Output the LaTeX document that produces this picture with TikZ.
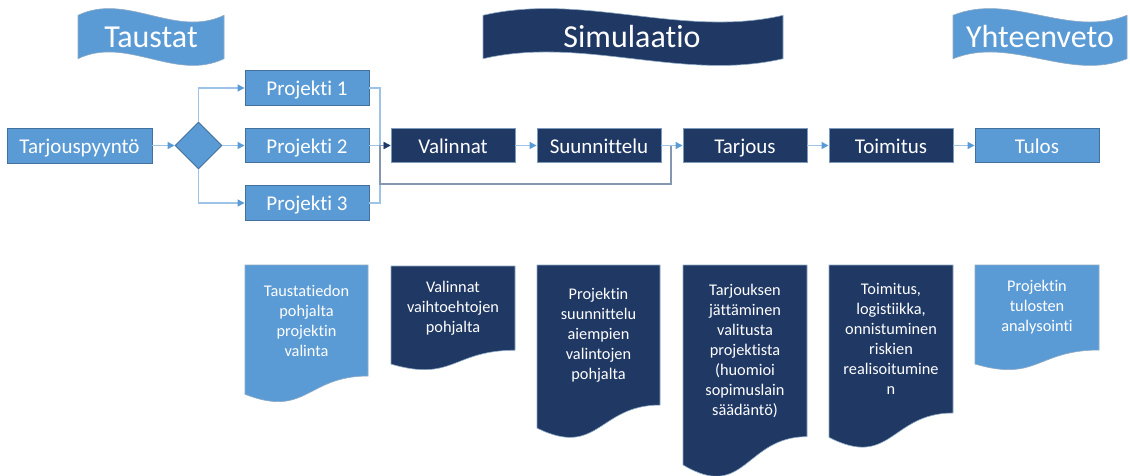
\documentclass[tikz,border=0pt]{standalone}
\usepackage{fontspec}
\setmainfont{Carlito}[Ligatures={CommonOff,ContextualOff}]
\usetikzlibrary{shapes.geometric,arrows.meta}
\definecolor{lblue}{HTML}{5B9BD5}
\definecolor{dblue}{HTML}{203864}
\definecolor{edgeblue}{HTML}{41719C}
\definecolor{conn}{HTML}{9DC3E6}
\definecolor{fbline}{HTML}{8496B0}
\tikzset{
  boxbase/.style={rectangle, draw=edgeblue, line width=0.9pt, text=white,
    minimum width=124, minimum height=34.5, inner sep=0pt,
    text height=17pt, text depth=2pt,
    font=\fontsize{21}{25}\selectfont},
  lightbox/.style={boxbase, fill=lblue},
  darkbox/.style={boxbase, fill=dblue, draw=edgeblue!70!white},
  decision/.style={diamond, aspect=1, draw=edgeblue, line width=0.9pt, fill=lblue,
    minimum width=47, minimum height=47, inner sep=0pt},
  bannertext/.style={text=white, font=\fontsize{32}{38}\selectfont, inner sep=0pt},
  doctext/.style={text=white, align=center, inner sep=0pt,
    font=\fontsize{16.3}{20}\selectfont},
  lightfill/.style={fill=lblue, draw=edgeblue!60!white, line width=0.6pt},
  darkfill/.style={fill=dblue, draw=edgeblue!60!white, line width=0.6pt},
  connector/.style={draw=conn, line width=1.3pt,
    -{Triangle[length=7pt,width=7pt,fill=lblue,color=lblue]}},
  plainconn/.style={draw=conn, line width=1.3pt},
  feedback/.style={draw=fbline, line width=1.3pt,
    -{Triangle[length=7pt,width=7pt,fill=dblue,color=dblue]}}
}
% wave banner: #1 style, #2 x0, #3 x1
\newcommand\wavebanner[3]{%
  \path[#1] (#2,15.3)
    .. controls ({#2+(#3-#2)/3},-8) and ({#2+2*(#3-#2)/3},38.6) .. (#3,15.3)
    -- (#3,58.7)
    .. controls ({#2+2*(#3-#2)/3},82) and ({#2+(#3-#2)/3},35.4) .. (#2,58.7)
    -- cycle;}
% document shape: #1 style, #2 x0, #3 x1, #4 top, #5 height
\newcommand\docshp[5]{%
  \path[#1] (#2,#4) -- (#3,#4) -- (#3,{#4+0.802*#5})
    .. controls ({(#2+#3)/2},{#4+0.802*#5}) and ({(#2+#3)/2},{#4+1.107*#5})
    .. (#2,{#4+0.934*#5}) -- cycle;}
\begin{document}
\begin{tikzpicture}[x=1pt,y=-1pt]
\useasboundingbox[fill=white] (0,0) rectangle (1130,475);

% banners
\wavebanner{lightfill}{78}{224}
\node[bannertext] (bt) at (151,37) {Taustat};
\wavebanner{darkfill}{483}{783}
\node[bannertext] (bs) at (632,37) {Simulaatio};
\wavebanner{lightfill}{953}{1127}
\node[bannertext] (by) at (1040,37) {Yhteenveto};

% process boxes
\node[lightbox, minimum width=145, minimum height=35] (tarj) at (79.5,145.5) {Tarjouspyyntö};
\node[decision] (dia) at (198.5,145.5) {};
\node[lightbox] (p1) at (307,88) {Projekti 1};
\node[lightbox] (p2) at (307,145.5) {Projekti 2};
\node[lightbox] (p3) at (307,203) {Projekti 3};
\node[darkbox] (val) at (453,145.5) {Valinnat};
\node[darkbox] (suu) at (599,145.5) {Suunnittelu};
\node[darkbox] (tar) at (745,145.5) {Tarjous};
\node[darkbox] (toi) at (891,145.5) {Toimitus};
\node[lightbox] (tul) at (1037,145.5) {Tulos};

\coordinate (jn) at (380,145.5);
\coordinate (fbr) at (671,184);

% connectors
\draw[connector] (tarj.east) -- (dia.west);
\draw[connector] (dia.north) |- (p1.west);
\draw[connector] (dia.east) -- (p2.west);
\draw[connector] (dia.south) |- (p3.west);
\draw[plainconn] (p1.east) -| (jn);
\draw[plainconn] (p3.east) -| (jn);
\draw[connector] (p2.east) -- (val.west);
\draw[feedback] (suu.east) -| (fbr) -| (jn) -- (val.west);
\draw[connector] (val.east) -- (suu.west);
\draw[connector] (suu.east) -- (tar.west);
\draw[connector] (tar.east) -- (toi.west);
\draw[connector] (toi.east) -- (tul.west);

% documents
\docshp{lightfill}{245}{368}{265}{138.4}
\node[doctext] (d1) at (306.5,320.5) {Taustatiedon\\pohjalta\\projektin\\valinta};
\docshp{darkfill}{391}{515}{266}{105}
\node[doctext] (d2) at (453,308) {Valinnat\\vaihtoehtojen\\pohjalta};
\docshp{darkfill}{537}{660}{265}{174.6}
\node[doctext] (d3) at (598.5,335) {Projektin\\suunnittelu\\aiempien\\valintojen\\pohjalta};
\docshp{darkfill}{683}{807}{265}{214}
\node[doctext] (d4) at (745,351) {Tarjouksen\\jättäminen\\valitusta\\projektista\\(huomioi\\sopimuslain\\säädäntö)};
\docshp{darkfill}{829}{953}{265}{184.5}
\node[doctext] (d5) at (891,339) {Toimitus,\\logistiikka,\\onnistuminen\\riskien\\realisoitumine\\n};
\docshp{lightfill}{975}{1099}{265}{106}
\node[doctext] (d6) at (1037,307.5) {Projektin\\tulosten\\analysointi};
\end{tikzpicture}
\end{document}
